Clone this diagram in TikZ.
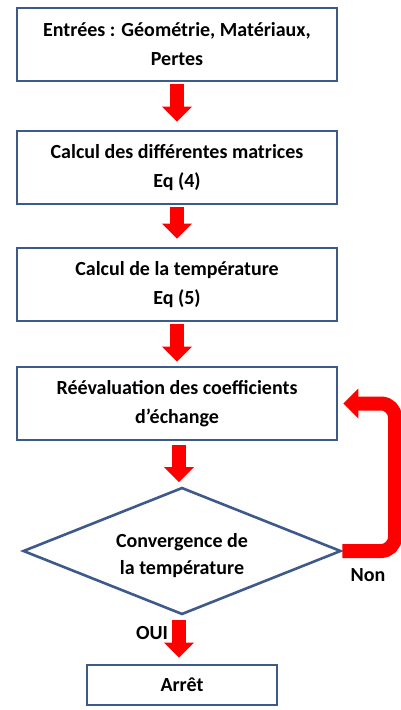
\documentclass[tikz,border=0pt]{standalone}
\usepackage{fontspec}
\setmainfont{Carlito}
\usetikzlibrary{arrows.meta,shapes.geometric}

\definecolor{boxblue}{RGB}{62,90,138}
\definecolor{arrowred}{RGB}{255,0,0}

\tikzset{
    stepbox/.style={draw=boxblue, line width=2.6pt, minimum width=320pt, minimum height=73pt,
        align=center, font=\fontsize{20}{29}\selectfont\bfseries, inner sep=0pt},
    testbox/.style={draw=boxblue, line width=2.6pt, shape=diamond, aspect=2.5, inner sep=0pt,
        minimum width=318pt, minimum height=127pt},
    flowarrow/.style={draw=arrowred, line width=14pt,
        -{Triangle[width=29pt, length=15pt]}},
    lbl/.style={font=\fontsize{20}{27}\selectfont\bfseries}
}

\begin{document}
\begin{tikzpicture}[x=1pt, y=-1pt]
    \useasboundingbox (0,0) rectangle (401,710);
    % boxes
    \node[stepbox] (entrees) at (177,44.5) {Entrées : Géométrie, Matériaux,\\Pertes};
    \node[stepbox] (matrices) at (177,167.5) {Calcul des différentes matrices\\Eq (4)};
    \node[stepbox] (temp) at (177,284.5) {Calcul de la température\\Eq (5)};
    \node[stepbox] (reeval) at (177,403.5) {Réévaluation des coefficients\\d’échange};
    % test
    \node[testbox] (conv) at (182,551) {};
    \node[lbl, align=center] (convtxt) at ([yshift=-5pt]conv.center) {Convergence de\\la température};
    \node[stepbox, minimum width=190pt, minimum height=40pt] (arret) at (182,685) {Arrêt};
    % arrows
    \draw[flowarrow] ([yshift=-2pt]entrees.south) -- ([yshift=8pt]matrices.north);
    \draw[flowarrow] ([yshift=-2pt]matrices.south) -- ([yshift=8pt]temp.north);
    \draw[flowarrow] ([yshift=-2pt]temp.south) -- ([yshift=4pt]reeval.north);
    \draw[flowarrow] ([xshift=2pt,yshift=-4pt]reeval.south) -- ([xshift=-3pt,yshift=4pt]conv.north);
    \draw[flowarrow] ([xshift=-3pt,yshift=-4pt]conv.south) -- ([xshift=-3pt,yshift=6pt]arret.north);
    \draw[flowarrow, rounded corners=14pt] (conv.east) -- (395,551) |- ([xshift=5pt]reeval.east);
    % labels
    \node[lbl] (non) at (368,575) {Non};
    \node[lbl] (oui) at (152,633) {OUI};
\end{tikzpicture}
\end{document}
